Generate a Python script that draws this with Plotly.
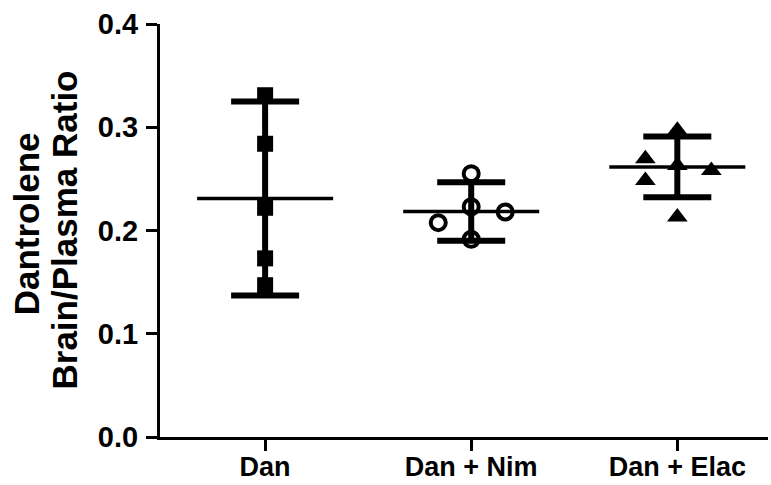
import plotly.graph_objects as go

groups = ["Dan", "Dan + Nim", "Dan + Elac"]

dan_vals = [0.331, 0.284, 0.222, 0.173, 0.147]
dan_offsets = [0, 0, 0, 0, 0]
nim_vals = [0.255, 0.223, 0.218, 0.2076, 0.1915]
nim_offsets = [0, 0, 0.165, -0.16, 0]
elac_vals = [0.297, 0.2695, 0.263, 0.258, 0.2485, 0.213]
elac_offsets = [0, -0.155, 0, 0.165, -0.155, 0]

means = [0.231, 0.2184, 0.2616]
errors = [0.094, 0.0283, 0.0294]

FONT = "Liberation Sans"
fig = go.Figure()

def xs(i, offs):
    return [i + o for o in offs]

fig.add_trace(go.Scatter(x=xs(0, dan_offsets), y=dan_vals, mode="markers",
                         marker=dict(symbol="square", size=16, color="black"), showlegend=False))
fig.add_trace(go.Scatter(x=xs(1, nim_offsets), y=nim_vals, mode="markers",
                         marker=dict(symbol="circle-open", size=15, color="black",
                                     line=dict(width=4, color="black")), showlegend=False))
fig.add_trace(go.Scatter(x=xs(2, elac_offsets), y=elac_vals, mode="markers",
                         marker=dict(symbol="triangle-up", size=18, color="black"), showlegend=False))

# error bars (mean +/- error)
fig.add_trace(go.Scatter(x=list(range(len(groups))), y=means, mode="markers",
                         marker=dict(size=1, color="rgba(0,0,0,0)"),
                         error_y=dict(type="data", array=errors, visible=True,
                                      thickness=6, width=34, color="black"),
                         showlegend=False))

# mean lines
mx, my = [], []
for i, m in enumerate(means):
    mx += [i - 0.33, i + 0.33, None]
    my += [m, m, None]
fig.add_trace(go.Scatter(x=mx, y=my, mode="lines", line=dict(color="black", width=3.5),
                         showlegend=False))

fig.update_xaxes(range=[-0.51, 2.44], tickvals=list(range(len(groups))), ticktext=groups,
                 showline=True, linewidth=3, linecolor="black", ticks="outside", ticklen=11,
                 tickwidth=3, tickcolor="black", showgrid=False, zeroline=False,
                 automargin=False, ticklabelstandoff=-7,
                 tickfont=dict(family=FONT, size=27, color="black", weight="bold"))
fig.update_yaxes(range=[0, 0.4], tickvals=[0, 0.1, 0.2, 0.3, 0.4], tickformat=".1f",
                 showline=True, linewidth=3, linecolor="black", ticks="outside", ticklen=11,
                 tickwidth=3, tickcolor="black", showgrid=False, zeroline=False,
                 automargin=False, ticklabelstandoff=2,
                 tickfont=dict(family=FONT, size=29, color="black", weight="bold"))

def px2paper(p):
    return (p - 160) / 608.0

fig.add_annotation(text="Dantrolene", xref="paper", yref="paper", x=px2paper(26), y=0.515,
                   xanchor="center", yanchor="middle", textangle=-90, showarrow=False,
                   font=dict(family=FONT, size=35, color="black", weight="bold"))
fig.add_annotation(text="Brain/Plasma Ratio", xref="paper", yref="paper", x=px2paper(64), y=0.5,
                   xanchor="center", yanchor="middle", textangle=-90, showarrow=False,
                   font=dict(family=FONT, size=35, color="black", weight="bold"))

fig.update_layout(width=771, height=485, margin=dict(l=160, r=3, t=24, b=48),
                  plot_bgcolor="white", paper_bgcolor="white", hovermode=False)

fig.write_html("out.html", config={"displayModeBar": False},
               post_script="document.body.style.margin='0';")
